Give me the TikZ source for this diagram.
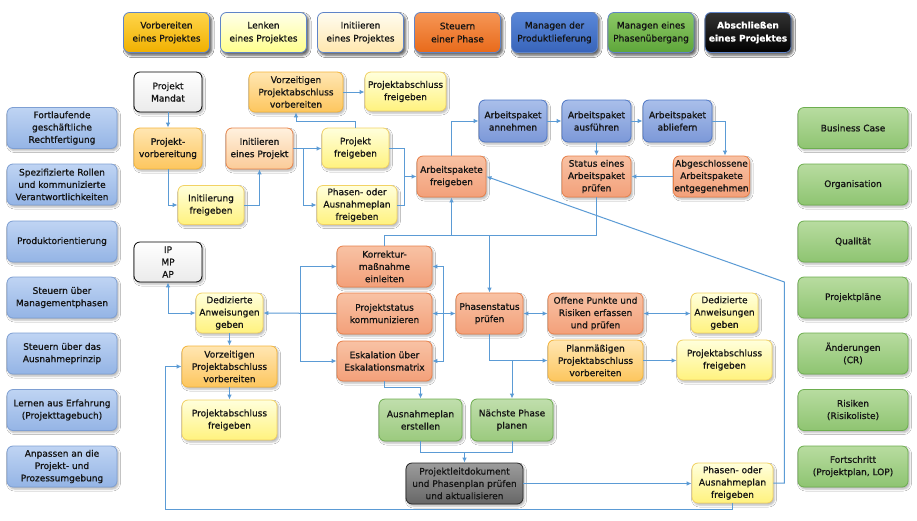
\documentclass[tikz,border=0pt]{standalone}
\usepackage{fontspec}
\setmainfont{DejaVu Sans}[RawFeature={embolden=0.9}]
\usetikzlibrary{arrows.meta,shadows.blur}
\newcommand\boxfont{\fontsize{9}{12.3}\selectfont}
\newcommand\legfont{\fontsize{9}{13}\selectfont}
\definecolor{arrc}{HTML}{5B9BD5}
\definecolor{yelT}{HTML}{FFFFDC}\definecolor{yelB}{HTML}{FFF27E}\definecolor{yelD}{HTML}{F2D264}
\definecolor{oraT}{HTML}{FFE6B2}\definecolor{oraB}{HTML}{FDC65E}\definecolor{oraD}{HTML}{F4B53A}
\definecolor{iniT}{HTML}{FFF1DE}\definecolor{iniB}{HTML}{FBCB98}\definecolor{iniD}{HTML}{E8844A}
\definecolor{salT}{HTML}{F8C2A4}\definecolor{salB}{HTML}{F3A07A}\definecolor{salD}{HTML}{E8804A}
\definecolor{bluT}{HTML}{A9BFEA}\definecolor{bluB}{HTML}{7C98D8}\definecolor{bluD}{HTML}{4F77C6}
\definecolor{grnT}{HTML}{C0DEAC}\definecolor{grnB}{HTML}{9BCA7E}\definecolor{grnD}{HTML}{6FAE50}
\definecolor{drkT}{HTML}{9C9C9C}\definecolor{drkB}{HTML}{666666}
\definecolor{lftT}{HTML}{BFD4F3}\definecolor{lftB}{HTML}{94B4E5}\definecolor{lftD}{HTML}{7E9FD3}
\definecolor{rgtT}{HTML}{B8DCA0}\definecolor{rgtB}{HTML}{8EC471}\definecolor{rgtD}{HTML}{6DAE4F}
\definecolor{legD}{HTML}{5F84C8}
\definecolor{l1T}{HTML}{FFD54A}\definecolor{l1B}{HTML}{F0B000}
\definecolor{l2T}{HTML}{FFFFEA}\definecolor{l2B}{HTML}{FFFF8C}
\definecolor{l3T}{HTML}{FFFCF0}\definecolor{l3B}{HTML}{FFE7AE}
\definecolor{l4T}{HTML}{F69656}\definecolor{l4B}{HTML}{E86A1A}
\definecolor{l5T}{HTML}{5A88D8}\definecolor{l5B}{HTML}{3864BA}
\definecolor{l6T}{HTML}{8CC866}\definecolor{l6B}{HTML}{5EA63A}
\tikzset{
  box/.style={draw, rounded corners=6pt, align=center, font=\boxfont, line width=0.8pt,
    inner sep=1pt, text=black!92,
    blur shadow={shadow xshift=1.5pt, shadow yshift=-2pt, shadow blur radius=2pt, shadow opacity=30}},
  sz/.style 2 args={minimum width=#1, minimum height=#2},
  yel/.style={box, top color=yelT, bottom color=yelB, draw=yelD},
  ora/.style={box, top color=oraT, bottom color=oraB, draw=oraD},
  ini/.style={box, top color=iniT, bottom color=iniB, draw=iniD},
  sal/.style={box, top color=salT, bottom color=salB, draw=salD},
  blu/.style={box, top color=bluT, bottom color=bluB, draw=bluD},
  grn/.style={box, top color=grnT, bottom color=grnB, draw=grnD},
  drk/.style={box, top color=drkT, bottom color=drkB, draw=black!85},
  wht/.style={box, top color=white, bottom color=black!8, draw=black},
  lft/.style={box, top color=lftT, bottom color=lftB, draw=lftD, sz={110pt}{41pt}},
  rgt/.style={box, top color=rgtT, bottom color=rgtB, draw=rgtD, sz={110pt}{41pt}},
  leg/.style={box, font=\legfont, draw=legD, sz={86pt}{40pt},
    blur shadow={shadow xshift=2pt, shadow yshift=-2.5pt, shadow blur radius=2.5pt, shadow opacity=40}},
  ln/.style={draw=arrc, line width=1pt},
  arr/.style={ln, -{Latex[length=5pt,width=4.5pt]}},
  arrb/.style={ln, {Latex[length=5pt,width=4.5pt]}-{Latex[length=5pt,width=4.5pt]}},
}
\begin{document}
\begin{tikzpicture}[x=1pt,y=-1pt]
\useasboundingbox[fill=white] (0,0) rectangle (917,520);

% legend
\node[leg, top color=l1T, bottom color=l1B] (l1) at (166.5,32.5) {Vorbereiten\\eines Projektes};
\node[leg, top color=l2T, bottom color=l2B] (l2) at (263.5,32.5) {Lenken\\eines Projektes};
\node[leg, top color=l3T, bottom color=l3B] (l3) at (360.5,32.5) {Initiieren\\eines Projektes};
\node[leg, top color=l4T, bottom color=l4B] (l4) at (457.5,32.5) {Steuern\\einer Phase};
\node[leg, top color=l5T, bottom color=l5B] (l5) at (554.5,32.5) {Managen der\\Produktlieferung};
\node[leg, top color=l6T, bottom color=l6B] (l6) at (651,32.5) {Managen eines\\Phasenübergang};
\node[leg, top color=black!80, bottom color=black, text=white, font=\legfont\bfseries] (l7) at (748,32.5) {Abschließen\\eines Projektes};

% left column
\node[lft] (c1) at (62,128) {Fortlaufende\\geschäftliche\\Rechtfertigung};
\node[lft] (c2) at (62,184.5) {Spezifizierte Rollen\\und kommunizierte\\Verantwortlichkeiten};
\node[lft] (c3) at (62,241.5) {Produktorientierung};
\node[lft] (c4) at (62,297.5) {Steuern über\\Managementphasen};
\node[lft] (c5) at (62,353.5) {Steuern über das\\Ausnahmeprinzip};
\node[lft] (c6) at (62,410) {Lernen aus Erfahrung\\(Projekttagebuch)};
\node[lft] (c7) at (62,466.5) {Anpassen an die\\Projekt- und\\Prozessumgebung};

% right column
\node[rgt] (r1) at (853,128) {Business Case};
\node[rgt] (r2) at (853,184.5) {Organisation};
\node[rgt] (r3) at (853,241.5) {Qualität};
\node[rgt] (r4) at (853,297.5) {Projektpläne};
\node[rgt] (r5) at (853,353.5) {Änderungen\\(CR)};
\node[rgt] (r6) at (853,410) {Risiken\\(Risikoliste)};
\node[rgt] (r7) at (853,466.5) {Fortschritt\\(Projektplan, LOP)};

% main nodes
\node[wht, sz={68pt}{40pt}] (mandat) at (168,92) {Projekt\\Mandat};
\node[ora, sz={68pt}{41pt}] (vorb) at (168,148.5) {Projekt-\\vorbereitung};
\node[yel, sz={66pt}{39pt}] (initfrei) at (211,205) {Initiierung\\freigeben};
\node[ini, sz={67pt}{41pt}] (initprj) at (259.5,148.5) {Initiieren\\eines Projekt};
\node[yel, sz={67pt}{40pt}] (prjfrei) at (355.5,148) {Projekt\\freigeben};
\node[yel, sz={80pt}{39pt}] (phasfrei1) at (357,205) {Phasen- oder\\Ausnahmeplan\\freigeben};
\node[ora, sz={94pt}{40pt}] (vorzeit1) at (296,92) {Vorzeitigen\\Projektabschluss\\vorbereiten};
\node[yel, sz={81pt}{39pt}] (abschl1) at (405.5,91.5) {Projektabschluss\\freigeben};

\node[sal, sz={69pt}{41pt}] (apfrei) at (451.5,176.5) {Arbeitspakete\\freigeben};
\node[blu, sz={68pt}{42pt}] (apann) at (513,121) {Arbeitspaket\\annehmen};
\node[blu, sz={69pt}{42pt}] (apaus) at (596.5,121) {Arbeitspaket\\ausführen};
\node[blu, sz={69pt}{42pt}] (apabl) at (677.5,121) {Arbeitspaket\\abliefern};
\node[sal, sz={69pt}{41pt}] (apstat) at (596.5,176.5) {Status eines\\Arbeitspaket\\prüfen};
\node[sal, sz={68pt}{41pt}] (apabg) at (711.5,176.5) {Abgeschlossene\\Arbeitspakete\\entgegenehmen};

\node[wht, sz={68pt}{40pt}] (ipmpap) at (168,262) {IP\\MP\\AP};
\node[yel, sz={67pt}{40pt}] (ded1) at (229.5,313) {Dedizierte\\Anweisungen\\geben};
\node[ora, sz={95pt}{41pt}] (vorzeit2) at (229.5,366.5) {Vorzeitigen\\Projektabschluss\\vorbereiten};
\node[yel, sz={95pt}{40pt}] (abschl2) at (229.5,420) {Projektabschluss\\freigeben};

\node[sal, sz={95pt}{41pt}] (korr) at (384.5,266.5) {Korrektur-\\maßnahme\\einleiten};
\node[sal, sz={95pt}{41pt}] (pstat) at (384.5,313.5) {Projektstatus\\kommunizieren};
\node[sal, sz={95pt}{40pt}] (eskal) at (384.5,361) {Eskalation über\\Eskalationsmatrix};

\node[sal, sz={67pt}{41pt}] (phstat) at (489.5,313.5) {Phasenstatus\\prüfen};
\node[sal, sz={95pt}{41pt}] (offen) at (595.5,313.5) {Offene Punkte und\\Risiken erfassen\\und prüfen};
\node[yel, sz={67pt}{40pt}] (ded2) at (724.5,313) {Dedizierte\\Anweisungen\\geben};
\node[ora, sz={95pt}{41pt}] (planm) at (595.5,360.5) {Planmäßigen\\Projektabschluss\\vorbereiten};
\node[yel, sz={95pt}{40pt}] (abschl3) at (724.5,360) {Projektabschluss\\freigeben};

\node[grn, sz={83pt}{42pt}] (ausn) at (420.5,420) {Ausnahmeplan\\erstellen};
\node[grn, sz={82pt}{42pt}] (naechst) at (512,420) {Nächste Phase\\planen};
\node[drk, sz={117pt}{41pt}] (pld) at (464.5,483.5) {Projektleitdokument\\und Phasenplan prüfen\\und aktualisieren};
\node[yel, sz={81pt}{40pt}] (phasfrei2) at (732.5,483) {Phasen- oder\\Ausnahmeplan\\freigeben};

% helper coordinates
\coordinate (b1) at (303,148.5);
\coordinate (m1) at (404,176.5);
\coordinate (busy) at (0,235);
\coordinate (bl) at (300,313.5);
\coordinate (br) at (443,313.5);
\coordinate (lowy) at (0,509);
\coordinate (lowx) at (165,0);
\coordinate (joiny) at (0,452);

% connectors: initiation
\draw[arr] (mandat) -- (vorb);
\draw[arr] (vorb.south) |- (initfrei.west);
\draw[arr] (initfrei.east) -| (initprj.south);
\draw[arr] (initprj.east) -- (initprj.east -| prjfrei.west);
\draw[arr] (b1) |- (phasfrei1.west);
\draw[arr] (prjfrei.north) -- ++(0,-6) -| (vorzeit1.south);
\draw[arr] (vorzeit1.east) -- (vorzeit1.east -| abschl1.west);
\draw[ln] (prjfrei.east) -| (m1);
\draw[ln] (phasfrei1.east) -| (m1);
\draw[arr] (m1) -- (apfrei.west);

% work packages
\draw[arr] (apfrei.north) |- (apann.west);
\draw[arr] (apann) -- (apaus);
\draw[arr] (apaus) -- (apabl);
\draw[arr] (apabl.east) -| ([xshift=13.5pt]apabg.north);
\draw[arr] (apaus) -- (apstat);
\draw[arr] (apabg) -- (apstat);

% bus
\draw[ln] (apstat.south) |- (korr.north |- busy) -- (korr.north);
\draw[arr, line width=1.6pt] (apfrei.south |- busy) -- (apfrei.south);
\draw[arr, line width=1.6pt] (phstat.north |- busy) -- (phstat.north);

% steering
\draw[arrb] (ipmpap.south) |- (ded1.west);
\draw[arr] (ded1) -- (vorzeit2);
\draw[arr] (vorzeit2) -- (abschl2);
\draw[arr] (pstat.west) -- (ded1.east);
\draw[arr] (bl) |- (korr.west);
\draw[arr] (bl) |- (eskal.west);
\draw[arrb] (pstat.east) -- (phstat.west);
\draw[arr] (br) |- (korr.east);
\draw[arr] (br) |- (eskal.east);
\draw[arrb] (phstat.east) -- (offen.west);
\draw[arrb] (offen.east) -- (offen.east -| ded2.west);
\draw[arr] (phstat.south) |- (planm.west);
\draw[arr] (naechst.north |- planm.west) -- (naechst.north);
\draw[arr] (planm.east) -- (planm.east -| abschl3.west);

% phase transition
\draw[arr] (eskal.south) -- ++(0,6) -| (ausn.north);
\draw[ln] (ausn.south) -- ++(0,11) -| (naechst.south);
\draw[arr] (pld.north |- joiny) -- (pld.north);
\draw[arr] (pld.east) -- (pld.east -| phasfrei2.west);
\draw[arr] (phasfrei2.south) |- (lowx |- lowy) |- (vorzeit2.west);
\draw[arr] (phasfrei2.east) -- ++(11,0) -- ++(0,-201) -- (apfrei.east);
\end{tikzpicture}
\end{document}
